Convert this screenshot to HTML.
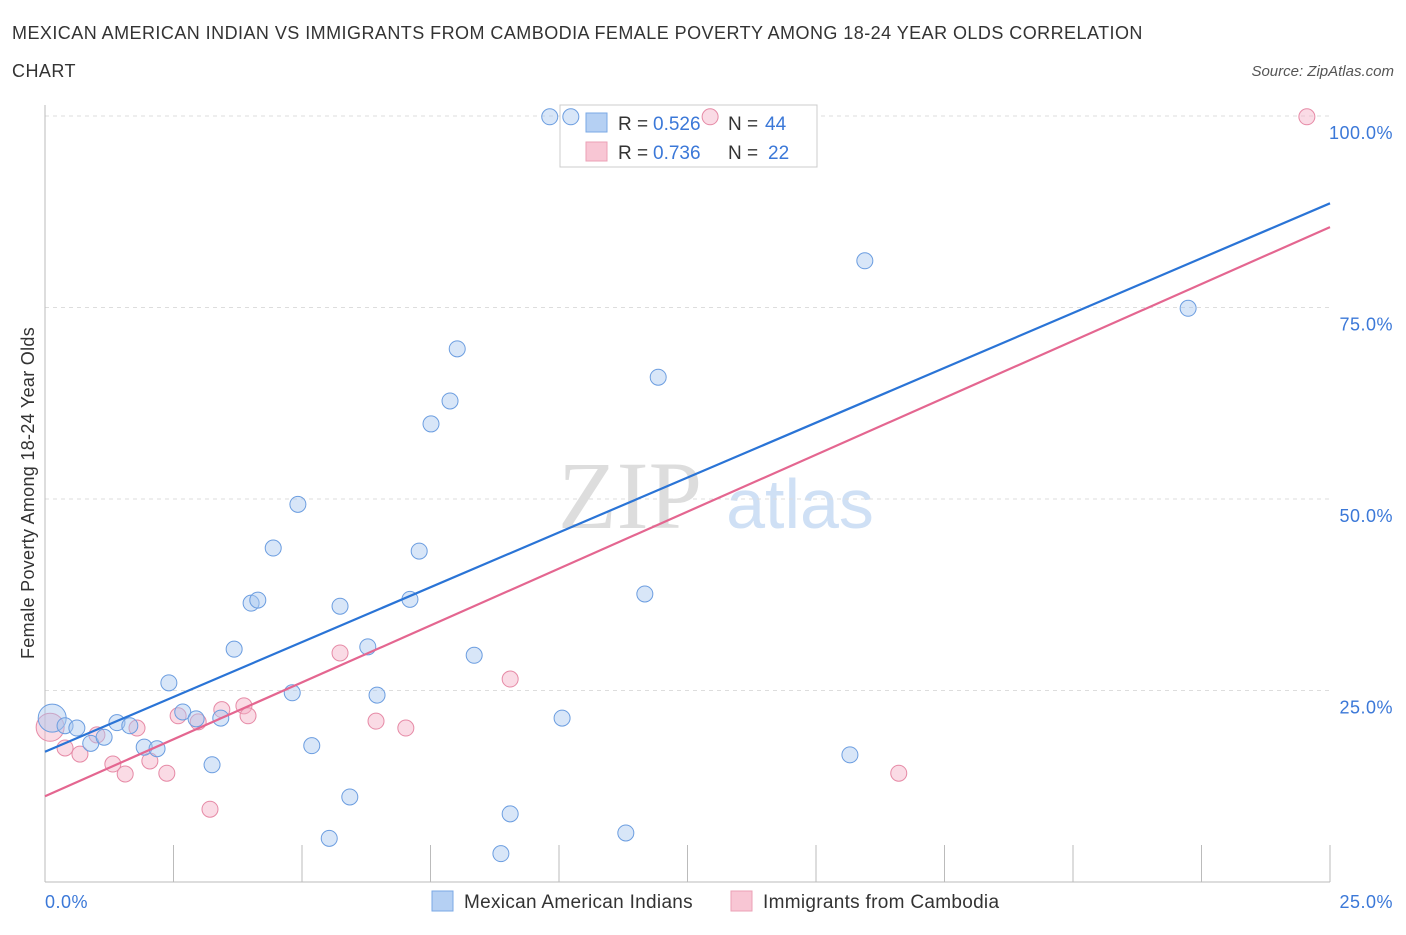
<!DOCTYPE html>
<html><head><meta charset="utf-8"><style>
body{margin:0;background:#fff;font-family:"Liberation Sans",sans-serif;}
</style></head><body>
<svg width="1406" height="930" viewBox="0 0 1406 930" xmlns="http://www.w3.org/2000/svg">
<text x="12" y="39" font-size="18" fill="#333" letter-spacing="0.45">MEXICAN AMERICAN INDIAN VS IMMIGRANTS FROM CAMBODIA FEMALE POVERTY AMONG 18-24 YEAR OLDS CORRELATION</text>
<text x="12" y="77" font-size="18" fill="#333" letter-spacing="0.45">CHART</text>
<text x="1394" y="76" font-size="15" fill="#555" font-style="italic" text-anchor="end">Source: ZipAtlas.com</text>
<text x="630" y="528" font-size="96" fill="#ddd" font-family="Liberation Serif,serif" text-anchor="middle">ZIP</text>
<text x="800" y="528" font-size="70" fill="#cfe0f5" text-anchor="middle">atlas</text>
<g id="grid"></g>
<g id="axes"></g>
<g>
<rect x="560" y="105" width="257" height="62" fill="#fff" stroke="#ccc"/>
<rect x="586" y="113" width="21" height="19" fill="#b5d0f3" stroke="#7aa8e6"/>
<rect x="586" y="142" width="21" height="19" fill="#f8c6d4" stroke="#eba0b6"/>
<text x="618" y="130" font-size="19" fill="#333">R =</text>
<text x="653" y="130" font-size="19" fill="#3b78d8">0.526</text>
<text x="728" y="130" font-size="19" fill="#333">N =</text>
<text x="765" y="130" font-size="19" fill="#3b78d8">44</text>
<text x="618" y="159" font-size="19" fill="#333">R =</text>
<text x="653" y="159" font-size="19" fill="#3b78d8">0.736</text>
<text x="728" y="159" font-size="19" fill="#333">N =</text>
<text x="768" y="159" font-size="19" fill="#3b78d8">22</text>
</g>
<g id="marks"></g>
<text x="34" y="493" font-size="18" fill="#333" letter-spacing="0.3" text-anchor="middle" transform="rotate(-90 34 493)">Female Poverty Among 18-24 Year Olds</text>
<text x="45" y="908" font-size="18" fill="#3b78d8" letter-spacing="0.5">0.0%</text>
<text x="1393" y="908" font-size="18" fill="#3b78d8" letter-spacing="0.5" text-anchor="end">25.0%</text>
<g>
<rect x="432" y="891" width="21" height="20" fill="#b5d0f3" stroke="#7aa8e6"/>
<text x="464" y="908" font-size="19" fill="#333" letter-spacing="0.3">Mexican American Indians</text>
<rect x="731" y="891" width="21" height="20" fill="#f8c6d4" stroke="#eba0b6"/>
<text x="763" y="908" font-size="19" fill="#333" letter-spacing="0.3">Immigrants from Cambodia</text>
</g>
</svg>
<script>
const yTicks=[25,50,75,100];
const yTickLabels=["25.0%","50.0%","75.0%","100.0%"];
const xTicks=[0,2.5,5,7.5,10,12.5,15,17.5,20,22.5,25];
const blueX=[9.82,10.23,0.14,0.39,0.62,0.89,1.15,1.40,1.65,1.93,2.18,2.41,2.68,2.94,3.25,3.42,3.68,4.01,4.14,4.44,4.81,4.92,5.19,5.53,5.74,5.93,6.28,6.46,7.10,7.28,7.51,7.88,8.02,8.35,8.87,9.05,10.06,11.30,11.67,11.93,15.66,15.95,22.24];
const blueY=[99.9,99.9,21.4,20.4,20.1,18.1,18.9,20.8,20.4,17.6,17.4,26.0,22.2,21.3,15.3,21.4,30.4,36.4,36.8,43.6,24.7,49.3,17.8,5.7,36.0,11.1,30.7,24.4,36.9,43.2,59.8,62.8,69.6,29.6,3.7,8.9,21.4,6.4,37.6,65.9,16.6,81.1,74.9];
const pinkX=[12.94,24.55,0.10,0.39,0.68,1.01,1.32,1.56,1.79,2.04,2.37,2.59,2.98,3.21,3.44,3.87,3.95,5.74,6.44,7.02,9.05,16.61];
const pinkY=[99.9,99.9,20.2,17.5,16.7,19.2,15.4,14.1,20.1,15.8,14.2,21.7,20.9,9.5,22.5,23.0,21.7,29.9,21.0,20.1,26.5,14.2];
const blueFit=[17.0,88.6];
const pinkFit=[11.2,85.5];
const NS="http://www.w3.org/2000/svg";
const X=v=>45+v*51.4, Y=v=>882-v*7.66;
function mk(parent,tag,attrs){const e=document.createElementNS(NS,tag);for(const k in attrs)e.setAttribute(k,attrs[k]);document.getElementById(parent).appendChild(e);return e;}
yTicks.forEach((t,i)=>{
 const g=mk('grid','line',{x1:45,x2:1330,y1:Y(t),y2:Y(t),stroke:'#ddd','stroke-dasharray':'4 4'});
 
 
 const tx=mk('grid','text',{x:1393,y:Y(t)+23,'font-size':18,fill:'#3b78d8','text-anchor':'end','letter-spacing':0.5});
 tx.textContent=yTickLabels[i];
 
 
});
const ax=mk('axes','line',{x1:45,x2:45,y1:105,y2:882,stroke:'#bbb'});


const bx=mk('axes','line',{x1:45,x2:1330,y1:882,y2:882,stroke:'#bbb'});


xTicks.forEach(t=>{
 const l=mk('axes','line',{x1:X(t),x2:X(t),y1:845,y2:882,stroke:'#bbb'});
 
 
});
function dots(xs,ys,fill,stroke,name){
 xs.forEach((x,i)=>{
  const big=(x<0.2);
  const c=mk('marks','circle',{cx:X(x),cy:Y(ys[i]),r:big?14:8,fill:fill,'fill-opacity':0.45,stroke:stroke,'stroke-width':1});
  
  
 });
}
dots(pinkX,pinkY,'#f5b0c5','#e68aa6','point-cambodia');
dots(blueX,blueY,'#a9c8f0','#6b9de0','point-mexican');
const bl=mk('marks','line',{x1:X(0),y1:Y(blueFit[0]),x2:X(25),y2:Y(blueFit[1]),stroke:'#2a74d6','stroke-width':2.2});


const pl=mk('marks','line',{x1:X(0),y1:Y(pinkFit[0]),x2:X(25),y2:Y(pinkFit[1]),stroke:'#e46690','stroke-width':2.2});


</script>
</body></html>
